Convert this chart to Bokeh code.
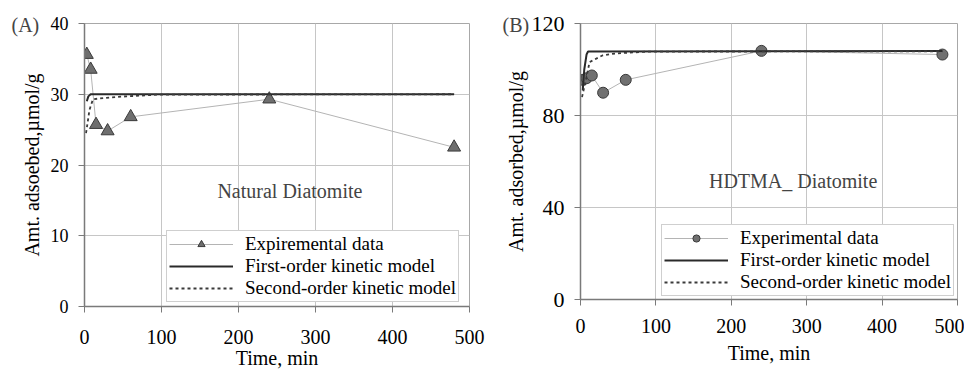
from bokeh.plotting import figure
from bokeh.models import Label, Legend, LegendItem, FixedTicker, Range1d
from bokeh.layouts import row
from bokeh.embed import file_html
from bokeh.resources import INLINE

# ---- data ----
x_ticks = [0, 100, 200, 300, 400, 500]
yA_ticks = [0, 10, 20, 30, 40]
yB_ticks = [0, 40, 80, 120]

# Panel A: natural diatomite
tA = [3, 8, 15, 30, 60, 240, 480]
qA = [35.6, 33.5, 25.7, 24.8, 26.8, 29.3, 22.5]
fA_t = [3, 5, 8, 15, 480]
fA_q = [29.0, 29.7, 30.0, 30.0, 30.0]
sA_t = [2, 6.5, 11, 28, 54, 97, 480]
sA_q = [24.5, 27.8, 29.3, 29.5, 29.7, 29.95, 30.0]

# Panel B: HDTMA diatomite
tB = [3, 8, 15, 30, 60, 240, 480]
qB = [95.5, 96.2, 97.4, 89.9, 95.5, 108.1, 106.5]
fB_t = [3, 5, 8, 10, 480]
fB_q = [91.0, 100.0, 106.5, 107.8, 108.0]
sB_t = [2, 7, 12, 29, 42, 62, 90, 480]
sB_q = [88.0, 95.2, 103.2, 106.1, 106.8, 107.3, 107.8, 107.9]

labels_A = ["Expiremental data", "First-order kinetic model", "Second-order kinetic model"]
labels_B = ["Experimental data", "First-order kinetic model", "Second-order kinetic model"]

FONT = "Liberation Serif"
GRID = "#c6c6c6"
AXIS = "#7a7a7a"


def style(p, panel, offset, yticks, ylabel, ytick_font, xl_standoff, xal_standoff, yal_standoff):
    p.title.text = panel
    p.title.text_font = FONT
    p.title.text_font_size = "20px"
    p.title.text_font_style = "normal"
    p.title.align = "left"
    p.title.offset = offset
    p.title.standoff = -24
    p.xaxis.ticker = FixedTicker(ticks=x_ticks)
    p.yaxis.ticker = FixedTicker(ticks=yticks)
    p.xaxis.axis_label = "Time, min"
    p.yaxis.axis_label = ylabel
    for ax in (p.xaxis, p.yaxis):
        ax.axis_label_text_font = FONT
        ax.axis_label_text_font_style = "normal"
        ax.axis_label_text_font_size = "20px"
        ax.axis_label_text_color = "black"
        ax.major_label_text_font = FONT
        ax.major_label_text_font_size = "20px"
        ax.major_label_text_color = "black"
        ax.axis_line_color = AXIS
        ax.axis_line_width = 1.5
        ax.major_tick_line_color = AXIS
        ax.major_tick_in = 0
        ax.major_tick_out = 6
        ax.minor_tick_line_color = None
    p.yaxis.major_label_text_font_size = ytick_font
    p.xaxis.major_label_standoff = xl_standoff
    p.xaxis.axis_label_standoff = xal_standoff
    p.yaxis.major_label_standoff = 10
    p.yaxis.axis_label_standoff = yal_standoff
    p.xgrid.grid_line_color = GRID
    p.ygrid.grid_line_color = GRID
    p.xgrid.ticker = FixedTicker(ticks=x_ticks)
    p.ygrid.ticker = FixedTicker(ticks=yticks)
    p.outline_line_color = "#a8a8a8"
    p.background_fill_color = "white"
    p.border_fill_color = "white"


def add_series(p, t, q, ft, fq, st, sq, marker, labels, loc):
    el = p.line(t, q, line_color="#b4b4b4", line_width=1)
    if marker == "triangle":
        em = p.scatter(t, q, marker="triangle", size=13, fill_color="#6e6e6e",
                       line_color="#3a3a3a", line_width=1)
    else:
        em = p.scatter(t, q, marker="circle", size=11, fill_color="#707070",
                       line_color="#3a3a3a", line_width=1)
    fl = p.line(ft, fq, line_color="#2a2a2a", line_width=2)
    sl = p.line(st, sq, line_color="#3a3a3a", line_width=1.8, line_dash="3 3")
    leg = Legend(items=[LegendItem(label=labels[0], renderers=[el, em]),
                        LegendItem(label=labels[1], renderers=[fl]),
                        LegendItem(label=labels[2], renderers=[sl])],
                 location=loc)
    leg.label_text_font = FONT
    leg.label_text_font_size = "19px"
    leg.label_text_color = "black"
    leg.label_height = 18
    leg.glyph_height = 18
    leg.glyph_width = 64
    leg.label_standoff = 12
    leg.spacing = 0
    leg.padding = 2
    leg.margin = 0
    leg.border_line_color = "#a0a0a0"
    leg.border_line_width = 1
    leg.background_fill_color = "white"
    leg.background_fill_alpha = 1
    p.add_layout(leg)


# ---- Panel A ----
pA = figure(frame_width=385, frame_height=283, min_border_left=84, min_border_right=24,
            min_border_top=23, min_border_bottom=60, x_range=Range1d(0, 500),
            y_range=Range1d(0, 40), output_backend="svg", toolbar_location=None)
style(pA, "(A)", -73, yA_ticks, "Amt. adsoebed,\u00b5mol/g", "18px", 17, 0, 5)
add_series(pA, tA, qA, fA_t, fA_q, sA_t, sA_q, "triangle", labels_A, (82, 4))
pA.add_layout(Label(x=270, y=16.3, text="Natural  Diatomite", text_font=FONT,
                    text_font_size="20px", text_align="center", text_baseline="middle"))

# ---- Panel B ----
pB = figure(frame_width=377, frame_height=276, min_border_left=87, min_border_right=7,
            min_border_top=22, min_border_bottom=64, x_range=Range1d(0, 500),
            y_range=Range1d(0, 120), output_backend="svg", toolbar_location=None)
style(pB, "(B)", -78, yB_ticks, "Amt. adsorbed,\u00b5mol/g", "22px", 13, 6, 2)
add_series(pB, tB, qB, fB_t, fB_q, sB_t, sB_q, "circle", labels_B, (81, 3))
pB.add_layout(Label(x=282, y=51.7, text="HDTMA_ Diatomite", text_font=FONT,
                    text_font_size="20px", text_align="center", text_baseline="middle"))

layout = row(pA, pB)
open("out.html", "w").write(file_html(layout, INLINE))
